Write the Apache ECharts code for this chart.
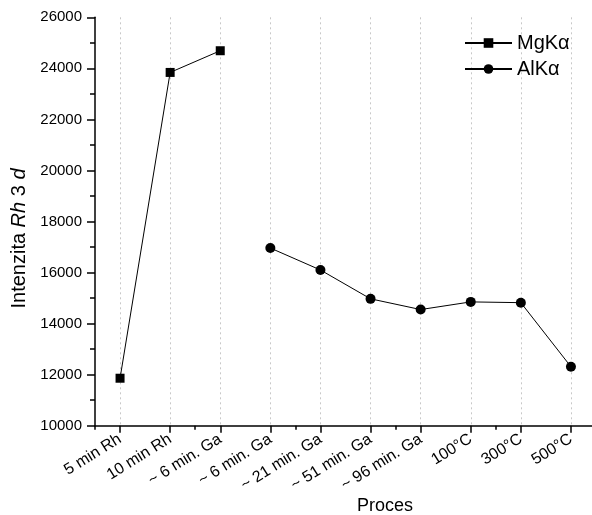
<!DOCTYPE html>
<html>
<head>
<meta charset="utf-8">
<script src="https://cdn.jsdelivr.net/npm/echarts@6/dist/echarts.min.js"></script>
<style>
  html, body { margin: 0; padding: 0; background: #fff; overflow: hidden; }
  #chart { width: 600px; height: 515px; }
</style>
</head>
<body>
<div id="chart"></div>
<script>
// Process steps along the x axis
const categories = ['5 min Rh', '10 min Rh', '~ 6 min. Ga', '~ 6 min. Ga', '~ 21 min. Ga',
  '~ 51 min. Ga', '~ 96 min. Ga', '100°C', '300°C', '500°C'];
// Rh 3d intensity measured with Mg K-alpha (first three steps)
const mgKa = [11860, 23840, 24690, null, null, null, null, null, null, null];
// Rh 3d intensity measured with Al K-alpha (remaining steps)
const alKa = [null, null, null, 16960, 16100, 14970, 14550, 14850, 14820, 12310];
// Y axis range and tick step
const yMin = 10000, yMax = 26000, yStep = 2000;

const font = 'Liberation Sans, Arial, sans-serif';
const chart = echarts.init(document.getElementById('chart'), null, { renderer: 'canvas' });

chart.setOption({
  animation: false,
  backgroundColor: '#fff',
  // plot area runs slightly past the right edge of the visible page
  grid: { left: 95, top: 17.3, width: 501, height: 408.4, containLabel: false },
  title: {
    text: 'Proces',
    left: 352, top: 492,
    textStyle: { fontFamily: font, fontSize: 18, fontWeight: 'normal', color: '#000' }
  },
  legend: {
    left: 459, top: 28,
    orient: 'vertical',
    itemWidth: 47, itemHeight: 12, itemGap: 6,
    textStyle: { fontFamily: font, fontSize: 20, color: '#000' },
    data: ['MgKα', 'AlKα']
  },
  xAxis: [
    {
      type: 'category',
      data: categories,
      boundaryGap: true,
      axisLine: { show: true, lineStyle: { color: '#000', width: 1.5 } },
      axisTick: { show: true, alignWithLabel: true, inside: false, length: 7, lineStyle: { color: '#000', width: 1.5 } },
      axisLabel: {
        interval: 0, rotate: 32, margin: 12,
        fontFamily: font, fontSize: 16, color: '#000'
      },
      splitLine: { show: true, alignWithLabel: true, lineStyle: { color: '#c8c8c8', type: [2, 3], width: 1 } }
    },
    {
      // boundary (minor) ticks between steps
      type: 'category',
      data: categories,
      position: 'bottom',
      boundaryGap: true,
      axisLine: { show: false },
      axisTick: { show: true, alignWithLabel: false, length: 4, lineStyle: { color: '#000', width: 1.5 } },
      axisLabel: { show: false },
      splitLine: { show: false }
    }
  ],
  yAxis: {
    type: 'value',
    min: yMin, max: yMax, interval: yStep,
    name: '{n|Intenzita }{i|Rh}{n| 3 }{i|d}',
    nameLocation: 'middle',
    nameGap: 58,
    nameTextStyle: {
      padding: [0, 34, 0, 0],
      rich: {
        n: { fontFamily: font, fontSize: 20, color: '#000' },
        i: { fontFamily: font, fontSize: 20, fontStyle: 'italic', color: '#000' }
      }
    },
    axisLine: { show: true, lineStyle: { color: '#000', width: 1.5 } },
    axisTick: { show: true, length: 8, lineStyle: { color: '#000', width: 1.5 } },
    minorTick: { show: true, splitNumber: 2, length: 5, lineStyle: { color: '#000', width: 1.5 } },
    axisLabel: {
      margin: 13, fontFamily: font, fontSize: 15, color: '#000',
      formatter: v => String(v)
    },
    splitLine: { show: false }
  },
  series: [
    {
      name: 'MgKα', type: 'line', data: mgKa, connectNulls: false,
      symbol: 'rect', symbolSize: 9,
      lineStyle: { color: '#000', width: 1 },
      itemStyle: { color: '#000' }
    },
    {
      name: 'AlKα', type: 'line', data: alKa, connectNulls: false,
      symbol: 'circle', symbolSize: 10,
      lineStyle: { color: '#000', width: 1 },
      itemStyle: { color: '#000' }
    }
  ]
});
</script>
</body>
</html>
